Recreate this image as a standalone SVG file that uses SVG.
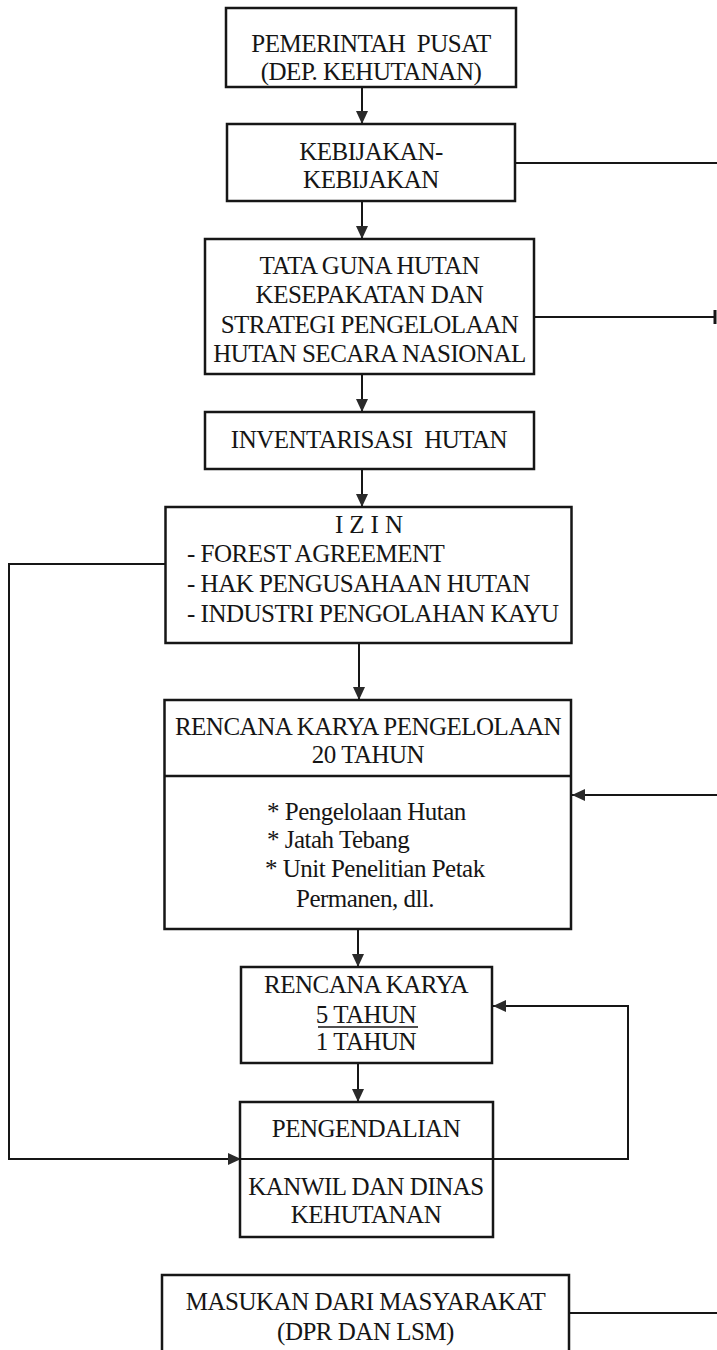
<svg xmlns="http://www.w3.org/2000/svg" width="717" height="1350" viewBox="0 0 717 1350">
  <style>
    .box { fill: #ffffff; stroke: #161616; stroke-width: 2.5; }
    .div { stroke: #161616; stroke-width: 2.5; fill: none; }
    .t { font-family: "Liberation Serif", "Times New Roman", serif; font-size: 25px; letter-spacing: -0.5px; fill: #151515; }
    .c { text-anchor: middle; }
    .pre { white-space: pre; }
    .conn { stroke: #161616; stroke-width: 2; fill: none; }
    .arr { marker-end: url(#ah); }
  </style>
  <defs>
    <marker id="ah" markerUnits="userSpaceOnUse" markerWidth="13" markerHeight="12" refX="13" refY="6" orient="auto">
      <path d="M0,0 L13,6 L0,12 Z" fill="#2a2a2a"/>
    </marker>
  </defs>
  <rect width="717" height="1350" fill="#ffffff"/>

  <g id="connectors">
    <line class="conn arr" x1="362" y1="87" x2="362" y2="124"/>
    <line class="conn" x1="515" y1="163" x2="717" y2="163"/>
    <line class="conn arr" x1="362" y1="201" x2="362" y2="239"/>
    <line class="conn" x1="534" y1="317" x2="715" y2="317"/>
    <line class="conn" x1="715" y1="310" x2="715" y2="324" style="stroke-width:3"/>
    <line class="conn arr" x1="362" y1="374" x2="362" y2="412"/>
    <line class="conn arr" x1="362" y1="469" x2="362" y2="507"/>
    <polyline class="conn arr" points="165,564 9,564 9,1159 241,1159"/>
    <line class="conn arr" x1="359" y1="643" x2="359" y2="700"/>
    <line class="conn arr" x1="717" y1="795" x2="572" y2="795"/>
    <line class="conn arr" x1="358" y1="929" x2="358" y2="967"/>
    <polyline class="conn arr" points="493,1159 628,1159 628,1006 493,1006"/>
    <line class="conn arr" x1="358" y1="1063" x2="358" y2="1102"/>
    <line class="conn" x1="569" y1="1313" x2="717" y2="1313"/>
  </g>

  <g id="pemerintah-pusat">
    <rect class="box" x="226" y="8" width="290" height="79"/>
    <text class="t c pre" x="371" y="52" xml:space="preserve">PEMERINTAH  PUSAT</text>
    <text class="t c" x="371" y="80">(DEP. KEHUTANAN)</text>
  </g>

  <g id="kebijakan">
    <rect class="box" x="227" y="124" width="288" height="77"/>
    <text class="t c" x="371" y="160">KEBIJAKAN-</text>
    <text class="t c" x="371" y="188">KEBIJAKAN</text>
  </g>

  <g id="tata-guna-hutan">
    <rect class="box" x="205" y="239" width="329" height="135"/>
    <text class="t c" x="369.5" y="274">TATA GUNA HUTAN</text>
    <text class="t c" x="369.5" y="303">KESEPAKATAN DAN</text>
    <text class="t c" x="369.5" y="333">STRATEGI PENGELOLAAN</text>
    <text class="t c" x="369.5" y="362">HUTAN SECARA NASIONAL</text>
  </g>

  <g id="inventarisasi">
    <rect class="box" x="205" y="412" width="329" height="57"/>
    <text class="t c pre" x="369" y="448" xml:space="preserve">INVENTARISASI  HUTAN</text>
  </g>

  <g id="izin">
    <rect class="box" x="165.5" y="507" width="406" height="136"/>
    <text class="t c" x="372" y="533" style="letter-spacing:6px">IZIN</text>
    <text class="t" x="187" y="562">- FOREST AGREEMENT</text>
    <text class="t" x="187" y="592">- HAK PENGUSAHAAN HUTAN</text>
    <text class="t" x="187" y="622">- INDUSTRI PENGOLAHAN KAYU</text>
  </g>

  <g id="rencana-karya-pengelolaan">
    <rect class="box" x="164.5" y="700" width="406.5" height="229"/>
    <line class="div" x1="164.5" y1="776" x2="571" y2="776"/>
    <text class="t c" x="368" y="735">RENCANA KARYA PENGELOLAAN</text>
    <text class="t c" x="368" y="763">20 TAHUN</text>
    <text class="t" x="267" y="820">* Pengelolaan Hutan</text>
    <text class="t" x="267" y="848">* Jatah Tebang</text>
    <text class="t" x="265" y="877">* Unit Penelitian Petak</text>
    <text class="t" x="296" y="907">Permanen, dll.</text>
  </g>

  <g id="rencana-karya">
    <rect class="box" x="241" y="967" width="251" height="96"/>
    <text class="t c" x="366" y="993">RENCANA KARYA</text>
    <text class="t c" x="366" y="1023">5 TAHUN</text>
    <line x1="318" y1="1027" x2="418" y2="1027" stroke="#151515" stroke-width="1.5"/>
    <text class="t c" x="366" y="1050">1 TAHUN</text>
  </g>

  <g id="pengendalian">
    <rect class="box" x="240" y="1102" width="253" height="135"/>
    <line class="div" x1="240" y1="1159" x2="493" y2="1159" style="stroke-width:2"/>
    <text class="t c" x="366" y="1137">PENGENDALIAN</text>
    <text class="t c" x="366" y="1195">KANWIL DAN DINAS</text>
    <text class="t c" x="366" y="1223">KEHUTANAN</text>
  </g>

  <g id="masukan">
    <rect class="box" x="162" y="1275" width="407" height="90"/>
    <text class="t c" x="365.5" y="1310">MASUKAN DARI MASYARAKAT</text>
    <text class="t c" x="365.5" y="1340">(DPR DAN LSM)</text>
  </g>
</svg>
